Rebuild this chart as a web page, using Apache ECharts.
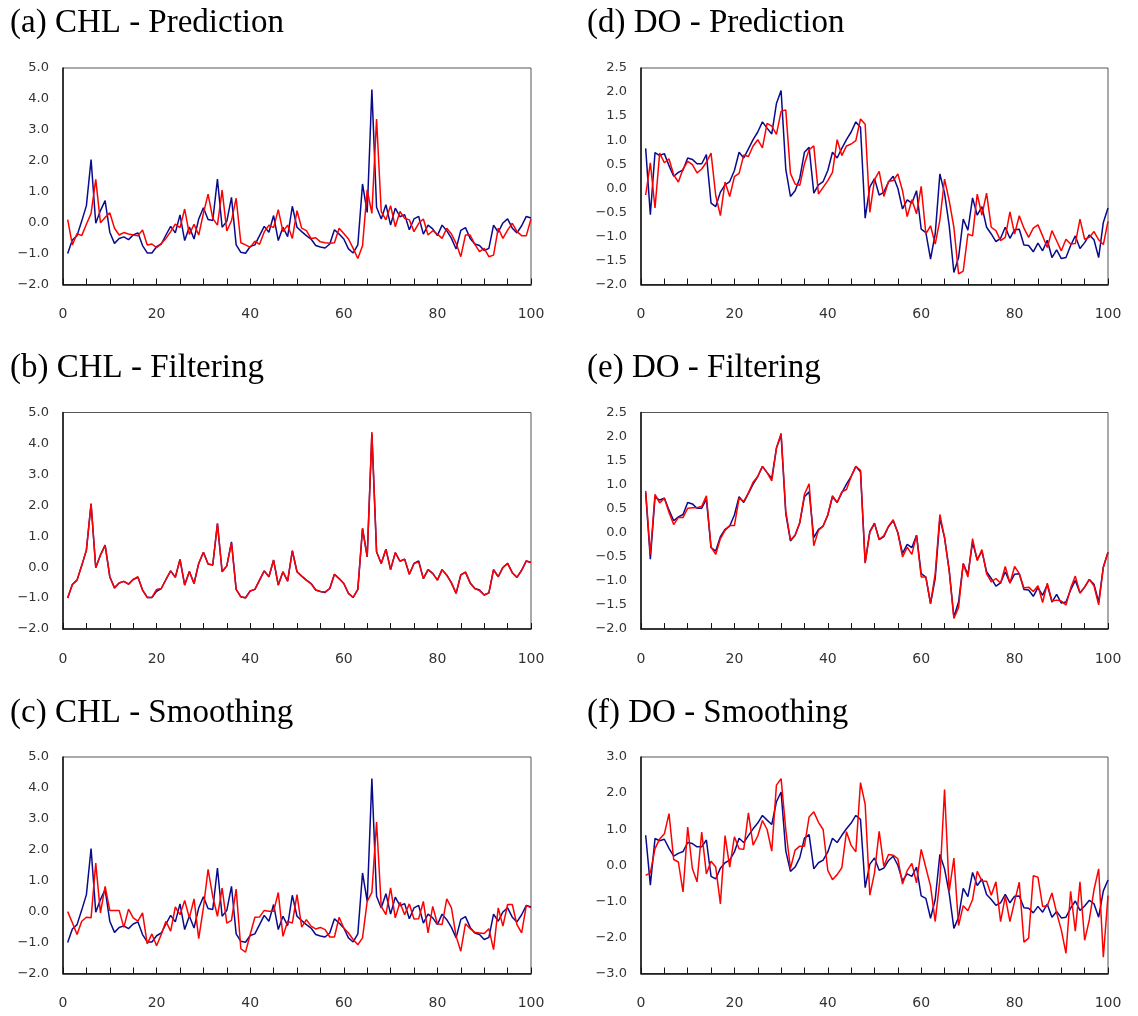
<!DOCTYPE html>
<html>
<head>
<meta charset="utf-8">
<title>CHL / DO state estimates</title>
<script src="https://cdn.jsdelivr.net/npm/echarts@6/dist/echarts.min.js"></script>
<style>
  html, body { margin: 0; padding: 0; background: #fff; }
  #chart { width: 1138px; height: 1016px; }
</style>
</head>
<body>
<div id="chart"></div>
<script>
// Time steps 1..100
const steps = Array.from({ length: 100 }, (_, k) => k + 1);

// Chlorophyll (CHL) observed series
const chlObs = [
  -1.00, -0.56, -0.42, 0.05, 0.55, 2.04, -0.02, 0.39, 0.71, -0.31,
  -0.67, -0.51, -0.46, -0.55, -0.40, -0.33, -0.74, -0.98, -0.98, -0.78,
  -0.69, -0.40, -0.12, -0.33, 0.25, -0.58, -0.14, -0.53, 0.12, 0.48,
  0.10, 0.07, 1.41, -0.15, 0.04, 0.82, -0.72, -0.96, -0.99, -0.77,
  -0.72, -0.42, -0.12, -0.31, 0.23, -0.58, -0.15, -0.45, 0.53, -0.15,
  -0.29, -0.42, -0.53, -0.74, -0.79, -0.82, -0.69, -0.23, -0.37, -0.53,
  -0.85, -0.98, -0.72, 1.25, 0.33, 4.30, 0.50, 0.12, 0.58, -0.08,
  0.47, 0.19, 0.26, -0.23, 0.12, 0.20, -0.37, -0.08, -0.20, -0.42,
  -0.08, -0.26, -0.51, -0.85, -0.25, -0.16, -0.51, -0.69, -0.74, -0.90,
  -0.83, -0.08, -0.31, -0.01, 0.12, -0.18, -0.33, -0.10, 0.20, 0.15
];
// CHL one-step prediction
const chlPred = [
  0.10, -0.72, -0.35, -0.42, -0.05, 0.30, 1.40, 0.00, 0.17, 0.32,
  -0.18, -0.40, -0.32, -0.37, -0.40, -0.42, -0.24, -0.72, -0.69, -0.81,
  -0.67, -0.51, -0.29, -0.05, -0.16, 0.44, -0.38, -0.05, -0.40, 0.30,
  0.92, 0.14, -0.08, 1.05, -0.27, 0.06, 0.79, -0.65, -0.72, -0.80,
  -0.60, -0.70, -0.30, -0.08, -0.16, 0.42, -0.29, -0.08, -0.51, 0.39,
  -0.18, -0.26, -0.51, -0.49, -0.62, -0.65, -0.67, -0.65, -0.18, -0.35,
  -0.53, -0.83, -1.16, -0.75, 1.06, 0.30, 3.35, 0.36, 0.09, 0.55,
  -0.13, 0.36, 0.14, 0.09, -0.29, -0.02, 0.12, -0.40, -0.26, -0.37,
  -0.51, -0.18, -0.37, -0.67, -1.10, -0.40, -0.40, -0.70, -0.94, -0.83,
  -1.10, -1.05, -0.18, -0.51, -0.24, -0.02, -0.29, -0.42, -0.42, 0.12
];
// CHL filtered estimate
const chlFilt = [
  -1.00, -0.56, -0.42, 0.05, 0.55, 2.06, -0.02, 0.39, 0.71, -0.31,
  -0.67, -0.51, -0.46, -0.55, -0.40, -0.31, -0.74, -0.98, -0.98, -0.72,
  -0.69, -0.40, -0.12, -0.33, 0.25, -0.58, -0.14, -0.53, 0.12, 0.48,
  0.10, 0.07, 1.41, -0.15, 0.04, 0.78, -0.72, -0.96, -1.00, -0.77,
  -0.72, -0.42, -0.12, -0.31, 0.23, -0.58, -0.15, -0.45, 0.53, -0.15,
  -0.29, -0.42, -0.53, -0.74, -0.79, -0.80, -0.69, -0.23, -0.37, -0.53,
  -0.85, -0.98, -0.72, 1.25, 0.33, 4.37, 0.50, 0.12, 0.58, -0.08,
  0.47, 0.19, 0.26, -0.23, 0.12, 0.17, -0.37, -0.08, -0.20, -0.42,
  -0.08, -0.26, -0.51, -0.85, -0.25, -0.16, -0.51, -0.69, -0.76, -0.90,
  -0.83, -0.08, -0.31, -0.01, 0.12, -0.18, -0.33, -0.10, 0.20, 0.15
];
// CHL smoothed estimate
const chlSmooth = [
  0.00, -0.36, -0.74, -0.31, -0.18, -0.20, 1.57, -0.04, 0.82, 0.04,
  0.04, 0.04, -0.51, 0.08, -0.20, -0.31, -0.04, -1.04, -0.72, -1.10,
  -0.74, -0.31, -0.63, 0.15, -0.10, 0.36, -0.20, 0.41, -0.87, 0.12,
  1.37, 0.49, -0.15, 0.76, -0.37, -0.28, 0.73, -1.20, -1.31, -0.74,
  -0.18, -0.17, 0.04, 0.01, 0.01, 0.62, -0.80, -0.31, -0.37, 0.55,
  -0.50, -0.26, -0.47, -0.56, -0.51, -0.58, -0.82, -0.82, -0.18, -0.53,
  -0.69, -0.90, -1.07, -0.85, 0.33, 0.62, 2.90, 0.17, -0.10, 0.77,
  -0.20, 0.30, -0.10, 0.25, -0.24, -0.23, 0.33, -0.69, 0.17, -0.39,
  -0.42, 0.41, 0.12, -0.80, -1.28, -0.39, -0.55, -0.67, -0.69, -0.71,
  -0.55, -1.23, 0.12, -0.47, 0.23, 0.23, -0.42, -0.69, 0.20, 0.12
];

// Dissolved oxygen (DO) observed series
const doObs = [
  0.83, -0.55, 0.74, 0.68, 0.72, 0.47, 0.25, 0.33, 0.38, 0.63,
  0.60, 0.51, 0.51, 0.70, -0.31, -0.38, -0.08, 0.07, 0.14, 0.37,
  0.75, 0.63, 0.82, 1.01, 1.17, 1.38, 1.25, 1.13, 1.76, 2.03,
  0.40, -0.17, -0.05, 0.21, 0.75, 0.85, -0.10, 0.07, 0.14, 0.37,
  0.75, 0.63, 0.83, 1.01, 1.17, 1.38, 1.27, -0.62, 0.03, 0.20,
  -0.14, -0.08, 0.13, 0.25, 0.00, -0.43, -0.24, -0.31, -0.05, -0.85,
  -0.92, -1.47, -0.95, 0.30, -0.10, -0.78, -1.75, -1.44, -0.64, -0.87,
  -0.20, -0.56, -0.38, -0.81, -0.95, -1.11, -1.04, -0.81, -1.04, -0.86,
  -0.85, -1.18, -1.19, -1.32, -1.14, -1.30, -1.08, -1.44, -1.28, -1.46,
  -1.44, -1.19, -0.99, -1.25, -1.13, -0.97, -1.07, -1.44, -0.71, -0.41
];
// DO one-step prediction
const doPred = [
  -0.14, 0.53, -0.41, 0.73, 0.53, 0.61, 0.28, 0.13, 0.40, 0.56,
  0.49, 0.32, 0.40, 0.54, 0.73, -0.15, -0.57, 0.13, -0.17, 0.24,
  0.31, 0.69, 0.66, 0.88, 1.01, 0.84, 1.35, 1.29, 1.12, 1.60,
  1.63, 0.31, 0.09, 0.06, 0.51, 0.80, 0.88, -0.12, 0.02, 0.16,
  0.33, 1.01, 0.68, 0.88, 0.92, 0.99, 1.44, 1.33, -0.50, 0.18,
  0.35, -0.17, 0.14, 0.16, 0.30, -0.05, -0.59, -0.24, -0.53, 0.04,
  -0.95, -0.78, -1.16, -0.66, 0.19, -0.26, -0.81, -1.78, -1.72, -0.95,
  -0.99, -0.12, -0.56, -0.10, -0.81, -0.88, -1.09, -1.02, -0.49, -0.95,
  -0.57, -0.83, -1.02, -0.83, -0.76, -0.99, -1.23, -0.88, -1.09, -1.30,
  -1.06, -1.16, -1.15, -0.64, -1.06, -1.02, -0.90, -1.07, -1.17, -0.69
];
// DO filtered estimate
const doFilt = [
  0.87, -0.45, 0.80, 0.62, 0.72, 0.42, 0.17, 0.32, 0.32, 0.51,
  0.52, 0.52, 0.55, 0.77, -0.30, -0.45, -0.12, 0.05, 0.15, 0.15,
  0.72, 0.65, 0.83, 1.05, 1.17, 1.38, 1.25, 1.08, 1.76, 2.07,
  0.45, -0.15, -0.05, 0.21, 0.80, 1.02, -0.27, 0.05, 0.14, 0.37,
  0.77, 0.63, 0.85, 0.90, 1.17, 1.38, 1.30, -0.63, 0.01, 0.19,
  -0.14, -0.06, 0.13, 0.27, 0.00, -0.50, -0.30, -0.45, -0.05, -0.92,
  -0.92, -1.47, -0.85, 0.38, -0.10, -0.80, -1.78, -1.55, -0.64, -0.92,
  -0.12, -0.58, -0.35, -0.85, -1.02, -0.95, -1.05, -0.70, -1.05, -0.70,
  -0.85, -1.15, -1.13, -1.22, -1.10, -1.45, -1.05, -1.42, -1.40, -1.42,
  -1.50, -1.15, -0.90, -1.25, -1.13, -0.97, -1.10, -1.50, -0.72, -0.40
];
// DO smoothed estimate
const doSmooth = [
  -0.28, -0.21, 0.46, 0.73, 0.87, 1.43, 0.16, 0.09, -0.74, 1.06,
  -0.09, -0.46, 0.92, -0.24, 0.11, -0.05, -1.07, 0.82, -0.05, 0.79,
  0.46, 0.44, 1.45, 0.56, 0.81, 1.24, 0.99, 0.39, 2.22, 2.40,
  0.99, -0.09, 0.42, 0.53, 0.53, 1.34, 1.48, 1.19, 0.99, -0.14,
  -0.40, -0.26, -0.07, 0.93, 0.55, 0.37, 2.29, 1.69, -0.83, -0.21,
  0.94, -0.03, 0.30, 0.28, 0.18, -0.52, -0.15, 0.05, -0.49, 0.44,
  -0.07, -0.58, -1.56, -0.40, 2.10, -0.72, 0.20, -1.67, -1.12, -1.26,
  -0.95, -0.17, -0.44, -0.44, -0.83, -0.46, -1.56, -0.86, -1.56, -1.00,
  -0.47, -2.13, -2.02, -0.29, -0.33, -1.14, -1.12, -0.77, -1.32, -1.79,
  -2.44, -0.72, -1.83, -0.46, -2.08, -1.51, -0.68, -0.10, -2.55, -0.84
];

// Panel titles and y-axis ranges
const panelTitles = [
  '(a) CHL - Prediction', '(b) CHL - Filtering', '(c) CHL - Smoothing',
  '(d) DO - Prediction', '(e) DO - Filtering', '(f) DO - Smoothing'
];
const chlRange = { min: -2, max: 5, interval: 1 };
const doRangePF = { min: -2, max: 2.5, interval: 0.5 };
const doRangeS = { min: -3, max: 3, interval: 1 };

const panels = [
  { title: panelTitles[0], col: 0, row: 0, obs: chlObs, est: chlPred, range: chlRange },
  { title: panelTitles[1], col: 0, row: 1, obs: chlObs, est: chlFilt, range: chlRange },
  { title: panelTitles[2], col: 0, row: 2, obs: chlObs, est: chlSmooth, range: chlRange },
  { title: panelTitles[3], col: 1, row: 0, obs: doObs, est: doPred, range: doRangePF },
  { title: panelTitles[4], col: 1, row: 1, obs: doObs, est: doFilt, range: doRangePF },
  { title: panelTitles[5], col: 1, row: 2, obs: doObs, est: doSmooth, range: doRangeS }
];

const colLeft = [63, 641];
const colWidth = [468, 467];
const rowTop = [68, 412.5, 757];
const plotHeight = 216.5;
const titleLeft = [10, 587];
const titleTop = [7, 352, 697];

const BLUE = '#0a0a8c';
const RED = '#ff0000';
const LABEL_FONT = '"DejaVu Sans", Verdana, sans-serif';
const fmtY = v => (v < 0 ? '\u2212' + Math.abs(v).toFixed(1) : v.toFixed(1));

const option = {
  animation: false,
  backgroundColor: '#fff',
  title: [], grid: [], xAxis: [], yAxis: [], series: []
};

panels.forEach((p, k) => {
  option.title.push({
    text: p.title,
    left: titleLeft[p.col], top: titleTop[p.row], padding: 0,
    textStyle: { fontFamily: '"Liberation Serif", "DejaVu Serif", serif', fontWeight: 'normal', fontSize: 33, color: '#000' }
  });
  option.grid.push({
    left: colLeft[p.col], top: rowTop[p.row], width: colWidth[p.col], height: plotHeight,
    show: true, borderColor: '#555', borderWidth: 1, backgroundColor: 'transparent'
  });
  option.xAxis.push({
    gridIndex: k, type: 'value', min: 0, max: 100, interval: 5,
    axisLine: { show: true, onZero: false, lineStyle: { color: '#111', width: 1.5 } },
    axisTick: { show: true, inside: true, length: 6, lineStyle: { color: '#111', width: 1 } },
    splitLine: { show: false },
    axisLabel: {
      margin: 23, fontSize: 14, color: '#333', fontFamily: LABEL_FONT,
      formatter: v => (v % 20 === 0 ? String(v) : '')
    }
  });
  option.yAxis.push({
    gridIndex: k, type: 'value', min: p.range.min, max: p.range.max, interval: p.range.interval,
    axisLine: { show: true, onZero: false, lineStyle: { color: '#111', width: 1.5 } },
    axisTick: { show: false },
    splitLine: { show: false },
    axisLabel: { margin: 14, fontSize: 13, color: '#333', fontFamily: LABEL_FONT, formatter: fmtY }
  });
  option.series.push({
    type: 'line', xAxisIndex: k, yAxisIndex: k,
    data: steps.map((s, j) => [s, p.obs[j]]),
    showSymbol: false, lineStyle: { color: BLUE, width: 1.5 }, z: 2
  });
  option.series.push({
    type: 'line', xAxisIndex: k, yAxisIndex: k,
    data: steps.map((s, j) => [s, p.est[j]]),
    showSymbol: false, lineStyle: { color: RED, width: 1.5 }, z: 3
  });
});

const chart = echarts.init(document.getElementById('chart'), null, { renderer: 'canvas' });
chart.setOption(option);
</script>
</body>
</html>
